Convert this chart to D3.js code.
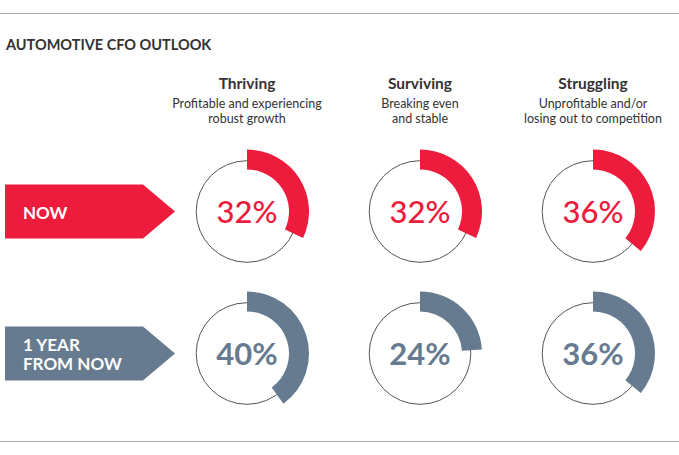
<!DOCTYPE html>
<html><head><meta charset="utf-8">
<script src="https://cdn.jsdelivr.net/npm/d3@7"></script>
<style>html,body{margin:0;padding:0;background:#fff;}svg{display:block;font-family:Lato,"Open Sans",sans-serif;}</style>
</head><body>
<script>
const categories = ["Thriving", "Surviving", "Struggling"];
const descriptions = [
  ["Profitable and experiencing", "robust growth"],
  ["Breaking even", "and stable"],
  ["Unprofitable and/or", "losing out to competition"]
];
const rowLabels = [["NOW"], ["1 YEAR", "FROM NOW"]];
const nowValues = [32, 32, 36];
const futureValues = [40, 24, 36];
const rowColors = ["#ED1B3C", "#667B8F"];

const W = 679, H = 455;
const svg = d3.select("body").append("svg").attr("width", W).attr("height", H);

svg.append("line").attr("x1", 0).attr("x2", W).attr("y1", 13.5).attr("y2", 13.5).attr("stroke", "#aaa").attr("stroke-width", 1);
svg.append("line").attr("x1", 0).attr("x2", W).attr("y1", 441.5).attr("y2", 441.5).attr("stroke", "#aaa").attr("stroke-width", 1);

svg.append("text").attr("x", 6).attr("y", 50).text("AUTOMOTIVE CFO OUTLOOK")
  .attr("font-size", 14.5).attr("font-weight", 700).attr("fill", "#333");

const x = d3.scalePoint().domain(categories).range([247, 593]);
const y = d3.scalePoint().domain([0, 1]).range([211.5, 353.5]);
const pct = d3.scaleLinear().domain([0, 100]).range([0, 2 * Math.PI]);

categories.forEach((c, i) => {
  const g = svg.append("g").attr("transform", `translate(${x(c)},0)`);
  g.append("text").attr("y", 89).attr("text-anchor", "middle").text(c)
    .attr("font-size", 15.5).attr("font-weight", 700).attr("fill", "#333");
  const t = g.append("text").attr("y", 108).attr("text-anchor", "middle")
    .attr("font-size", 12.5).attr("fill", "#333");
  descriptions[i].forEach((d, k) => {
    t.append("tspan").attr("x", 0).attr("dy", k === 0 ? 0 : 14.5).text(d);
  });
});

const rows = [nowValues, futureValues];
const arc = d3.arc().innerRadius(42).outerRadius(62).startAngle(0);

rows.forEach((vals, r) => {
  const cy = y(r);
  const col = rowColors[r];
  svg.append("path")
    .attr("d", `M5,${cy - 27}H143L175,${cy}L143,${cy + 27}H5Z`)
    .attr("fill", col);
  const lines = rowLabels[r];
  const t = svg.append("text").attr("x", 23)
    .attr("y", cy + 7 - (lines.length - 1) / 2 * 18.3)
    .attr("font-size", 17).attr("font-weight", 700).attr("fill", "#fff");
  lines.forEach((s, k) => {
    t.append("tspan").attr("x", 23).attr("dy", k === 0 ? 0 : 18.3).text(s);
  });
  categories.forEach((c, i) => {
    const g = svg.append("g").attr("transform", `translate(${x(c)},${cy})`);
    g.append("circle").attr("r", 50.8).attr("fill", "none").attr("stroke", "#555").attr("stroke-width", 1);
    g.append("path").attr("d", arc({endAngle: pct(vals[i])})).attr("fill", col);
    g.append("text").attr("y", 11).attr("text-anchor", "middle").text(vals[i] + "%")
      .attr("font-size", 31).attr("font-weight", r === 0 ? 500 : 700).attr("fill", col);
  });
});
</script>
</body></html>
